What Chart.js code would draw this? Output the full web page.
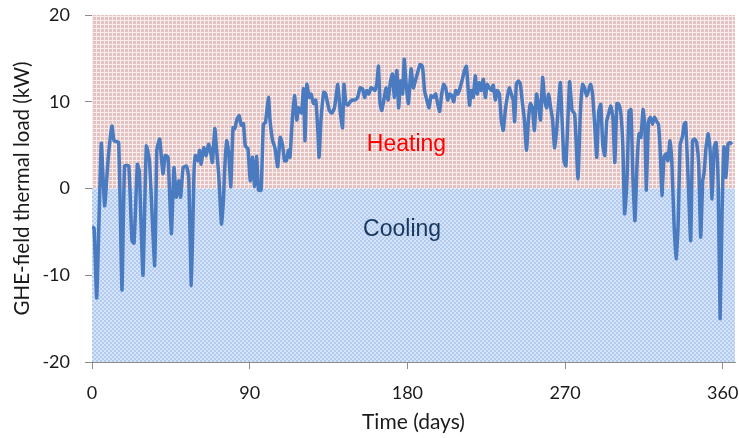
<!DOCTYPE html>
<html>
<head>
<meta charset="utf-8">
<script src="https://cdn.jsdelivr.net/npm/chart.js@4/dist/chart.umd.min.js"></script>
<style>
html,body{margin:0;padding:0;background:#fff;}
#wrap{width:739px;height:438px;}
</style>
</head>
<body>
<div id="wrap"><canvas id="c" width="739" height="438"></canvas></div>
<script>
const days = [0,1.2,2.7,5.3,7.2,9.3,11.4,12.6,15.2,17.1,18.6,21,22.8,24,25.9,27,29.1,31,32.8,35.8,37,38.6,40.5,41.8,43.4,45.3,46.8,48.1,49.5,50.6,52,53.9,55.2,56.7,58.2,59,60.5,61.4,62.3,63.8,65.2,66.5,67.6,68.7,70.1,71,72.3,73.9,75,75.7,76.9,78.1,79.2,80.5,81.5,82.8,84,85.2,86.4,87.5,89,90.3,91.6,92.8,94,95,96.5,97.8,99,100.7,101.6,103,104.4,106,107.4,108.7,109.9,111,112.1,113,114,115.6,116.9,117.8,118.7,119.6,120.7,121.6,122.6,124,125,126.4,127.7,128.9,129.6,130.7,132.3,133.4,134.5,135.5,136.9,138.4,140.3,141.7,143,143.8,144.9,146,147.4,148.7,150.1,151.6,153,154.4,155.6,156.8,158,159.2,160.3,161.4,162.6,163.5,164.4,165.4,166.8,167.9,169,170.4,171.5,172.6,174,175,176.1,177.3,178.2,179.3,180.6,182.1,183.4,184.8,185.9,187.3,188.6,189.8,191.1,192.4,193.5,194.9,196.1,197.3,198.4,199.6,200.7,201.9,203,204.2,205.3,206.5,207.6,208.8,210.1,211.4,212.6,213.7,214.5,215.5,216.4,217.6,218.7,219.9,221,222.2,223.3,224.5,225.6,226.7,227.9,229,230.2,231.3,232.5,233.6,234.7,235.9,237,238.2,239.3,240.4,241.2,242.2,243.4,244.5,245.7,246.8,248,249.1,250.2,251.4,252.5,253.7,254.8,256,257.2,258.3,259.5,260.6,261.8,262.9,264,265.2,266.3,267.3,268.3,269.4,270.5,272.6,274,275.5,277.4,278.7,280,281.1,282.3,283.4,284.6,285.7,286.9,288.1,289.2,290.4,291.5,292.7,293.8,295,296.1,297.3,298.4,299.6,300.7,301.9,303,304,305.3,306.5,307.6,308.8,309.9,311,312.2,313.3,314.5,315.6,316.4,317.6,318.7,319.9,321,322.1,323.3,324.4,325.3,326.5,327.6,328.7,329.9,331,332.2,333.4,334.5,335.7,336.9,338,338.8,339.5,340.3,341.7,342.8,344,345.1,346.3,347.4,348.6,349.4,350.5,351.7,352.8,353.9,355.1,356.2,357.4,358.5,359.6,360.7,361.9,363,364.2,365.3];
const loads = [-4.4,-4.6,-12.6,5.2,-2.0,3.6,7.2,5.5,5.3,-11.7,2.6,2.6,-6.0,-6.3,2.8,2.0,-10.0,4.9,3.2,-8.9,4.4,5.7,1.7,3.8,3.6,-5.2,2.4,-1.0,0.9,-1.0,2.4,2.6,1.3,-11.2,1.7,3.8,3.2,4.4,2.8,4.7,3.8,5.1,4.4,3.0,6.9,4.7,1.7,-4.1,-1.4,2.1,5.5,4.0,0.2,7.0,6.9,8.0,8.4,7.3,7.5,4.9,4.6,0.9,3.6,0.2,3.7,-0.2,-0.2,7.4,7.6,10.5,7.9,5.6,4.7,2.5,5.9,5.1,3.2,3.2,4.4,3.6,7.0,10.7,7.9,9.3,9.0,8.7,11.5,5.5,12.0,10.5,10.9,9.8,10.2,6.7,3.6,7.9,11.1,10.9,9.8,9.0,8.7,9.3,12.0,8.8,7.0,12.0,9.8,9.6,10.0,10.2,10.2,10.5,11.6,11.5,10.5,11.3,10.9,11.6,11.5,11.3,12.2,14.1,9.8,9.0,10.5,11.6,10.2,12.4,13.2,10.5,13.6,9.3,12.4,10.9,14.9,12.0,9.8,13.8,11.6,12.6,13.4,14.3,14.1,11.3,10.2,9.3,10.7,10.5,10.9,9.8,8.9,10.9,12.0,11.6,10.2,10.9,10.7,10.0,11.3,10.9,11.6,12.6,13.6,14.1,12.0,9.6,11.3,10.5,13.0,10.9,12.2,11.3,12.6,10.5,12.0,11.6,11.3,11.9,10.2,11.3,10.9,7.9,6.7,9.0,10.5,11.6,10.9,10.2,7.7,12.0,12.4,12.0,9.8,7.9,4.4,7.9,9.8,9.3,6.7,10.9,9.8,7.9,12.8,10.2,9.3,10.9,9.3,7.9,4.7,6.7,9.8,12.2,7.9,3.2,2.6,12.3,9.0,8.6,1.1,8.6,12.0,11.6,10.7,11.3,12.0,10.9,7.4,3.6,8.9,9.7,5.1,3.8,7.8,8.7,9.5,8.2,3.0,9.8,9.7,8.6,4.8,-2.9,0.6,8.9,9.1,0.9,-3.7,2.4,6.3,5.9,9.1,7.0,-0.2,7.7,8.2,7.4,8.2,7.8,7.4,4.0,-0.8,3.6,4.0,3.2,5.5,2.8,-4.0,-8.1,-4.4,5.1,5.9,7.4,7.6,4.8,0.9,-6.0,5.5,5.7,5.3,2.8,-5.6,0.9,1.9,4.8,6.3,4.4,-1.2,4.8,5.3,0.6,-15.0,-2.9,4.8,1.3,5.1,5.3,5.1];
const xTicks = [0, 90, 180, 270, 360];
const yTicks = [-20, -10, 0, 10, 20];
const xTitle = 'Time (days)';
const yTitle = 'GHE-field thermal load (kW)';
const regionLabels = [
  {text: 'Heating', x: 179.5, y: 5, color: '#ff0000'},
  {text: 'Cooling', x: 177, y: -4.7, color: '#17375e'}
];

function makeTile(kind) {
  const t = document.createElement('canvas');
  t.width = 4; t.height = 4;
  const c = t.getContext('2d');
  if (kind === 'pink') {
    c.fillStyle = '#e4c2c2'; c.fillRect(0,0,4,4);
    c.fillStyle = '#f7eded'; c.fillRect(0,0,4,1); c.fillRect(0,0,1,4);
  } else {
    c.fillStyle = '#d5e3f7'; c.fillRect(0,0,4,4);
    c.fillStyle = '#b3cbee';
    c.fillRect(0,0,2,2); c.fillRect(2,2,2,2);
  }
  return t;
}

const bgPlugin = {
  id: 'bg',
  beforeDatasetsDraw(chart) {
    const {ctx, chartArea: a, scales: {y}} = chart;
    const y0 = y.getPixelForValue(0);
    ctx.save();
    ctx.fillStyle = ctx.createPattern(makeTile('pink'), 'repeat');
    ctx.fillRect(a.left, a.top, a.right - a.left, y0 - a.top);
    ctx.fillStyle = ctx.createPattern(makeTile('blue'), 'repeat');
    ctx.fillRect(a.left, y0, a.right - a.left, a.bottom - y0);
    ctx.restore();
  },
  afterDraw(chart) {
    const {ctx, chartArea: a, scales: {x, y}} = chart;
    ctx.save();
    ctx.fillStyle = '#1a1a1a';
    ctx.font = '21px Lato';
    ctx.textAlign = 'center';
    ctx.textBaseline = 'middle';
    ctx.fillText(xTitle, (a.left + a.right) / 2, 422);
    ctx.save();
    ctx.translate(22, (a.top + a.bottom) / 2);
    ctx.rotate(-Math.PI / 2);
    ctx.font = '20.5px Lato';
    ctx.fillText(yTitle, 0, 0);
    ctx.restore();
    ctx.font = '23px "Liberation Sans"';
    regionLabels.forEach(l => {
      ctx.fillStyle = l.color;
      ctx.fillText(l.text, x.getPixelForValue(l.x), y.getPixelForValue(l.y));
    });
    ctx.restore();
  }
};

new Chart(document.getElementById('c'), {
  type: 'scatter',
  data: {
    datasets: [{
      data: days.map((d, i) => ({x: d, y: loads[i]})),
      showLine: true,
      borderColor: '#4a7abf',
      borderWidth: 3.5,
      pointRadius: 0,
      tension: 0.15,
      fill: false
    }]
  },
  options: {
    responsive: false,
    animation: false,
    devicePixelRatio: 1,
    layout: {padding: {top: 15, right: 4, left: 0, bottom: 0}},
    plugins: {legend: {display: false}, tooltip: {enabled: false}},
    scales: {
      x: {
        type: 'linear', min: 0, max: 367, position: 'bottom',
        afterBuildTicks: s => { s.ticks = xTicks.map(v => ({value: v})); },
        afterFit: s => { s.height = 76; s.paddingLeft = 0; s.paddingRight = 0; },
        grid: {drawOnChartArea: false, drawTicks: true, tickLength: 7, color: '#8c8c8c'},
        border: {display: true, color: '#8c8c8c', width: 1},
        ticks: {font: {family: 'Lato', size: 18}, color: '#1a1a1a', padding: 13, maxRotation: 0, includeBounds: false}
      },
      y: {
        type: 'linear', min: -20, max: 20,
        afterBuildTicks: s => { s.ticks = yTicks.map(v => ({value: v})); },
        afterFit: s => { s.width = 92; s.paddingTop = 0; s.paddingBottom = 0; },
        grid: {drawOnChartArea: false, drawTicks: true, tickLength: 7, color: '#8c8c8c'},
        border: {display: true, color: '#8c8c8c', width: 1},
        ticks: {font: {family: 'Lato', size: 18}, color: '#1a1a1a', padding: 15}
      }
    }
  },
  plugins: [bgPlugin]
});
</script>
</body>
</html>
